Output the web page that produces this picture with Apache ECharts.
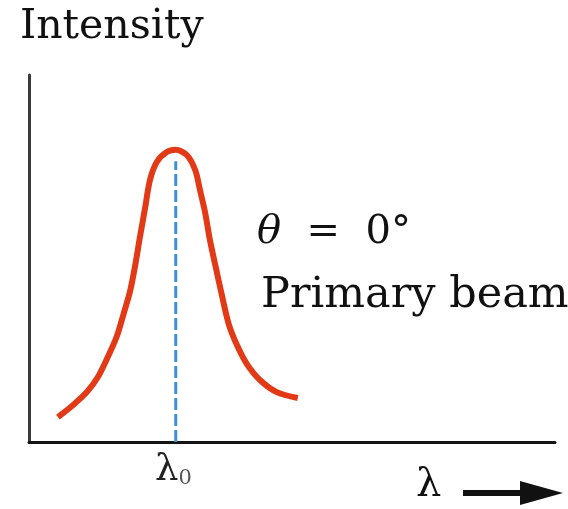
<!DOCTYPE html>
<html>
<head>
<meta charset="utf-8">
<script src="https://cdn.jsdelivr.net/npm/echarts@6/dist/echarts.min.js"></script>
<style>
  html, body { margin: 0; padding: 0; background: #fff; }
  #chart { width: 568px; height: 509px; }
</style>
</head>
<body>
<div id="chart"></div>
<script>
// Primary beam profile (θ = 0°): wavelength (arbitrary units) vs intensity
const wavelength = [5.5, 8.4, 11.0, 13.1, 15.0, 16.7, 18.0, 19.2, 20.2, 21.1, 22.1, 23.0, 24.3, 26.2, 27.9, 30.0, 31.6, 32.5, 33.5, 34.4, 35.4, 36.7, 38.0, 39.6, 41.4, 43.9, 47.1, 51.1];
const intensity  = [6.8, 10.1, 13.6, 17.7, 23.2, 28.8, 35.0, 41.0, 48.2, 55.9, 64.0, 71.4, 76.3, 79.0, 79.6, 78.2, 74.1, 68.7, 62.4, 55.0, 48.3, 39.8, 32.0, 26.2, 21.3, 16.9, 13.6, 12.0];
const peakWavelength = 27.9;
const peakMarkerTop = 76.5;

const chart = echarts.init(document.getElementById('chart'));
const serif = '"DejaVu Serif", "Liberation Serif", serif';

chart.setOption({
  animation: false,
  backgroundColor: '#ffffff',
  grid: { left: 29, right: 13, top: 75, bottom: 67 },
  xAxis: {
    type: 'value', min: 0, max: 100,
    axisLine: { show: true, lineStyle: { color: '#141414', width: 3 } },
    axisTick: { show: false }, axisLabel: { show: false }, splitLine: { show: false }
  },
  yAxis: {
    type: 'value', min: 0, max: 100,
    axisLine: { show: true, lineStyle: { color: '#3a3a3a', width: 3 } },
    axisTick: { show: false }, axisLabel: { show: false }, splitLine: { show: false }
  },
  series: [
    {
      type: 'line',
      data: [[peakWavelength, 0], [peakWavelength, peakMarkerTop]],
      symbol: 'none',
      lineStyle: { color: '#3d8fd6', width: 3, type: [12, 4] },
      z: 3
    },
    {
      type: 'line',
      data: wavelength.map((x, i) => [x, intensity[i]]),
      smooth: 0.3,
      symbol: 'none',
      lineStyle: { color: '#e23a17', width: 6, cap: 'butt', join: 'round' },
      z: 2
    }
  ],
  graphic: [
    { type: 'text', left: 20, top: 7, style: { text: 'Intensity', font: '41px ' + serif, fill: '#111' } },
    { type: 'text', left: 257, top: 213, style: { text: '{t|θ}  =  0°', font: '40px ' + serif, fill: '#111',
        rich: { t: { font: 'italic 40px ' + serif, fill: '#111' } } } },
    { type: 'text', left: 261, top: 274, style: { text: 'Primary beam', font: '43px ' + serif, fill: '#111' } },
    { type: 'text', left: 155, top: 452, style: { text: '{l|λ}{s|0}', fill: '#222',
        rich: { l: { font: '37px ' + serif, fill: '#222' }, s: { font: '21px ' + serif, fill: '#555', padding: [16, 0, 0, 0] } } } },
    { type: 'text', left: 416, top: 466, style: { text: 'λ', font: '40px ' + serif, fill: '#111' } },
    { type: 'line', shape: { x1: 463, y1: 493, x2: 530, y2: 493 }, style: { stroke: '#111', lineWidth: 6 } },
    { type: 'polygon', shape: { points: [[520, 481], [563, 493], [520, 505]] }, style: { fill: '#111' } }
  ]
});
</script>
</body>
</html>
